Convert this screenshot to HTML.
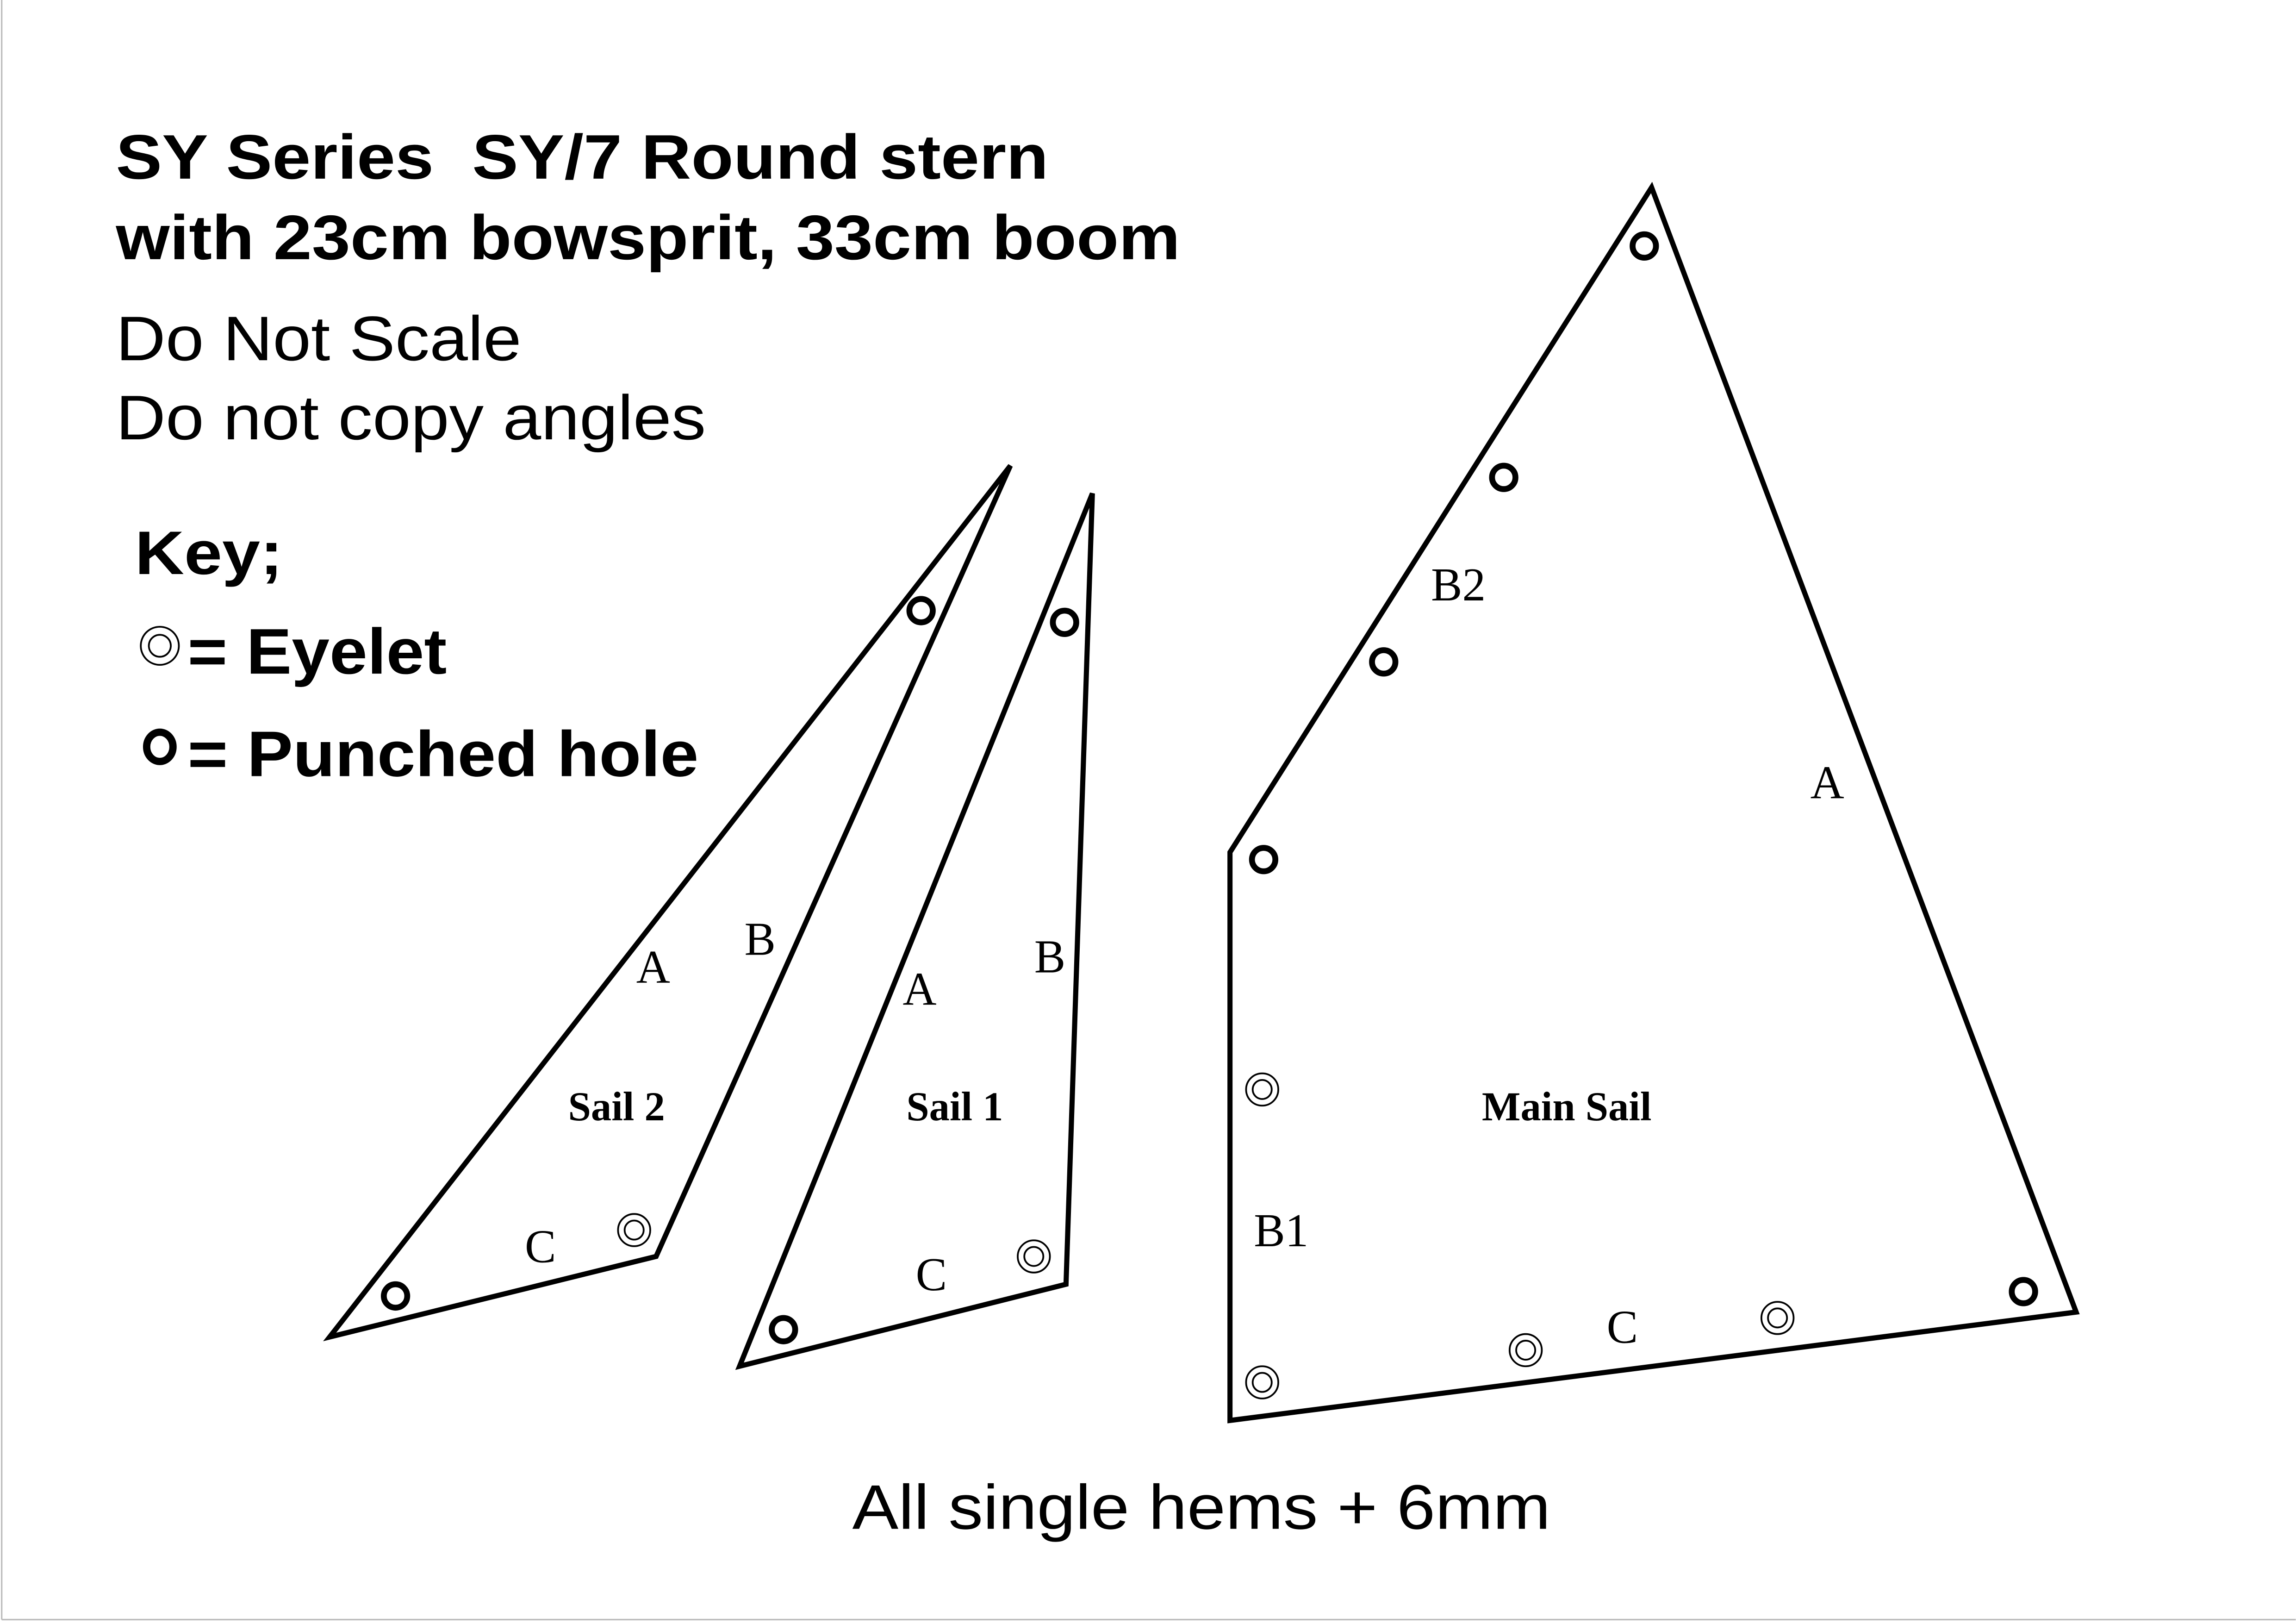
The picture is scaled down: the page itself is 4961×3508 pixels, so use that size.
<!DOCTYPE html>
<html><head><meta charset="utf-8"><style>
html,body{margin:0;padding:0;background:#fff;}
svg{display:block;}
</style></head><body>
<svg width="4961" height="3508" viewBox="0 0 1568 1109" xmlns="http://www.w3.org/2000/svg">
<rect width="1568" height="1109" fill="#fff"/>
<line x1="1" y1="0" x2="1" y2="1106" stroke="#bbb" stroke-width="1"/>
<line x1="1" y1="1106" x2="1568" y2="1106" stroke="#bbb" stroke-width="1"/>
<g font-family="Liberation Sans, sans-serif" fill="#000">
<text x="79" y="122" font-size="43" font-weight="bold" textLength="637" lengthAdjust="spacingAndGlyphs">SY Series &#160;SY/7 Round stern</text>
<text x="79" y="177" font-size="43" font-weight="bold" textLength="727" lengthAdjust="spacingAndGlyphs">with 23cm bowsprit, 33cm boom</text>
<text x="79" y="246" font-size="43" textLength="277" lengthAdjust="spacingAndGlyphs">Do Not Scale</text>
<text x="79" y="300" font-size="43" textLength="403" lengthAdjust="spacingAndGlyphs">Do not copy angles</text>
<text x="92" y="392" font-size="42" font-weight="bold" textLength="101" lengthAdjust="spacingAndGlyphs">Key;</text>
<text x="128" y="460" font-size="44" font-weight="bold" textLength="177" lengthAdjust="spacingAndGlyphs">= Eyelet</text>
<text x="128" y="530" font-size="44" font-weight="bold" textLength="349" lengthAdjust="spacingAndGlyphs">= Punched hole</text>
<text x="582" y="1044" font-size="43" textLength="477" lengthAdjust="spacingAndGlyphs">All single hems + 6mm</text>
</g>
<g fill="none" stroke="#000">
<circle cx="109" cy="441" r="13" stroke-width="1.2"/>
<circle cx="109" cy="441" r="7.5" stroke-width="1.2"/>
<ellipse cx="109" cy="510" rx="9" ry="10" stroke-width="5"/>
<g stroke-width="3.5" stroke-linejoin="miter">
<polygon points="225,913 690,318 448,858"/>
<polygon points="505,933 746,337 728,877"/>
<polygon points="840,970 840,582 1128,128 1418,896"/>
</g>
<g stroke-width="4">
<circle cx="629" cy="417" r="8"/>
<circle cx="270" cy="885" r="8"/>
<circle cx="727" cy="425" r="8"/>
<circle cx="535" cy="908" r="8"/>
<circle cx="1123" cy="168" r="8"/>
<circle cx="1027" cy="326" r="8"/>
<circle cx="945" cy="452" r="8"/>
<circle cx="863" cy="587" r="8"/>
<circle cx="1382" cy="882" r="8"/>
</g>
<g stroke-width="1.2">
<circle cx="433" cy="840" r="11"/><circle cx="433" cy="840" r="6.5"/>
<circle cx="706" cy="858" r="11"/><circle cx="706" cy="858" r="6.5"/>
<circle cx="862" cy="744" r="11"/><circle cx="862" cy="744" r="6.5"/>
<circle cx="862" cy="944" r="11"/><circle cx="862" cy="944" r="6.5"/>
<circle cx="1042" cy="922" r="11"/><circle cx="1042" cy="922" r="6.5"/>
<circle cx="1214" cy="900" r="11"/><circle cx="1214" cy="900" r="6.5"/>
</g>
</g>
<g font-family="Liberation Serif, serif" fill="#000" font-size="32" text-anchor="middle">
<text x="446" y="671">A</text>
<text x="519" y="652">B</text>
<text x="369" y="862">C</text>
<text x="628" y="686">A</text>
<text x="717" y="664">B</text>
<text x="636" y="881">C</text>
<text x="996" y="410">B2</text>
<text x="1248" y="545">A</text>
<text x="875" y="851">B1</text>
<text x="1108" y="917">C</text>
<g font-weight="bold" font-size="28">
<text x="421" y="765">Sail 2</text>
<text x="652" y="765">Sail 1</text>
<text x="1070" y="765">Main Sail</text>
</g>
</g>
</svg>
</body></html>
